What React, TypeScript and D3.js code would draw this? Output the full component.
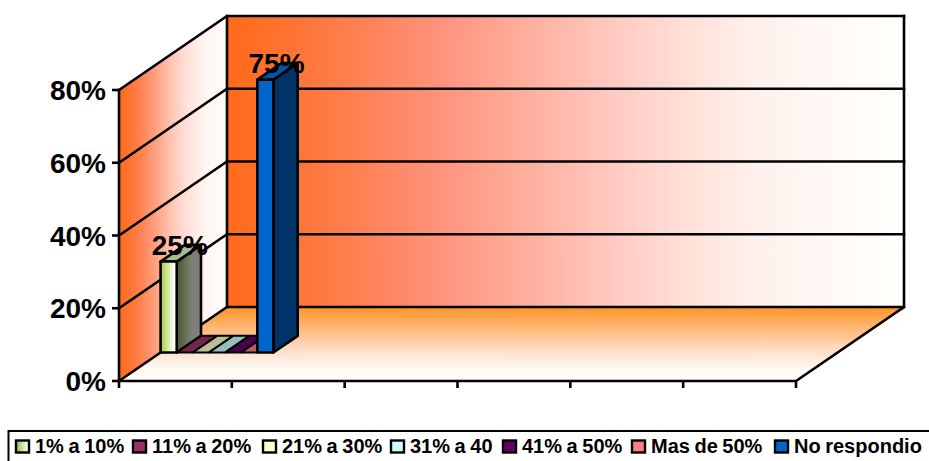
import React from "react";
import * as d3 from "d3";

// Survey answers, percentage of respondents per answer band
const seriesNames = ["1% a 10%", "11% a 20%", "21% a 30%", "31% a 40", "41% a 50%", "Mas de 50%", "No respondio"];
const seriesValues = [25, 0, 0, 0, 0, 0, 75];
const seriesColors = ["#a6ce39", "#993366", "#ffffcc", "#ccffff", "#660066", "#ff8080", "#0066cc"];
const valueTicks = [0, 20, 40, 60, 80];
const categorySlots = [0, 1, 2, 3, 4, 5, 6];

const WIDTH = 929;
const HEIGHT = 461;
const FONT = "'Liberation Sans', Arial, sans-serif";
const STROKE = 2.6;

// Oblique projection: front plane plus a depth offset towards the back wall
const xScale = d3.scaleLinear().domain([0, 6]).range([119, 796]);
const yScale = d3.scaleLinear().domain([0, 80]).range([381, 90]);
const depthX = d3.scaleLinear().domain([0, 1]).range([0, 108]);
const depthY = d3.scaleLinear().domain([0, 1]).range([0, -74]);
const barBand = d3.scaleBand<number>()
  .domain(d3.range(seriesValues.length))
  .range([xScale(0), xScale(1)]);
const BAR_DEPTH_FRONT = 0.385;
const BAR_DEPTH_BACK = 0.61;

type Pt = [number, number];
const project = (x: number, v: number, d: number): Pt => [x + depthX(d), yScale(v) + depthY(d)];
const polygon = d3.line<Pt>().curve(d3.curveLinearClosed);

const shade = (c: string, k: number) => {
  const o = d3.rgb(c);
  return d3.rgb(o.r * k, o.g * k, o.b * k).formatHex();
};

// Legend entries sit at fixed offsets along the strip below the plot
const legendSwatchX = [16, 133, 263, 391, 503, 632, 775];

const Bar = ({ i }: { i: number }) => {
  const v = seriesValues[i];
  const c = seriesColors[i];
  const x0 = barBand(i)!;
  const x1 = x0 + barBand.bandwidth();
  const f = BAR_DEPTH_FRONT;
  const b = BAR_DEPTH_BACK;
  const first = i === 0;
  const front = polygon([project(x0, 0, f), project(x1, 0, f), project(x1, v, f), project(x0, v, f)])!;
  const top = polygon([project(x0, v, f), project(x1, v, f), project(x1, v, b), project(x0, v, b)])!;
  const side = polygon([project(x1, 0, f), project(x1, 0, b), project(x1, v, b), project(x1, v, f)])!;
  const outline = { stroke: "#000", strokeWidth: STROKE, strokeLinejoin: "round" as const };
  if (v === 0) {
    return <path d={top} fill={shade(c, 0.74)} stroke="#000" strokeWidth={2} strokeLinejoin="round" />;
  }
  return (
    <g>
      <path d={side} fill={first ? "url(#firstSide)" : shade(c, 0.5)} {...outline} />
      <path d={top} fill={first ? "#a9ba8a" : shade(c, 0.83)} {...outline} />
      <path d={front} fill={first ? "url(#firstFront)" : c} {...outline} />
    </g>
  );
};

export default function App() {
  const wallLeft = xScale(0);
  const backLeft = project(wallLeft, 0, 1);
  const backTop = project(wallLeft, 80, 1);
  const floorRight = project(xScale(6), 0, 1);
  const frontRight = project(xScale(6), 0, 0);
  const frontBottom = project(wallLeft, 0, 0);
  const frontTop = project(wallLeft, 80, 0);
  const line = { stroke: "#000", strokeWidth: STROKE, fill: "none", strokeLinecap: "square" as const };

  return (
    <svg
      width={WIDTH}
      height={HEIGHT}
      viewBox={`0 0 ${WIDTH} ${HEIGHT}`}
      style={{ position: "fixed", left: 0, top: 0, background: "#fff" }}
    >
      <defs>
        <linearGradient id="wallFade" x1="0" x2="1" y1="0" y2="0">
          <stop offset="0" stopColor="#ff6a18" />
          <stop offset="0.15" stopColor="#ff7a45" />
          <stop offset="0.3" stopColor="#ff9078" />
          <stop offset="0.45" stopColor="#ffb0a0" />
          <stop offset="0.6" stopColor="#ffd0c8" />
          <stop offset="0.7" stopColor="#ffe4dc" />
          <stop offset="0.78" stopColor="#fff0ec" />
          <stop offset="0.88" stopColor="#fff9f5" />
          <stop offset="1" stopColor="#fffefc" />
        </linearGradient>
        <linearGradient id="sideFade" x1="0" x2="1" y1="0" y2="0">
          <stop offset="0" stopColor="#ff6a18" />
          <stop offset="0.2" stopColor="#ff8050" />
          <stop offset="0.5" stopColor="#ffc8b8" />
          <stop offset="0.62" stopColor="#ffe0d8" />
          <stop offset="0.8" stopColor="#fff5f2" />
          <stop offset="1" stopColor="#fffbf9" />
        </linearGradient>
        <linearGradient id="floorFade" x1="0" x2="0" y1="0" y2="1">
          <stop offset="0" stopColor="#ff9426" />
          <stop offset="0.55" stopColor="#ffd9c0" />
          <stop offset="0.8" stopColor="#fff6f0" />
          <stop offset="1" stopColor="#fffefc" />
        </linearGradient>
        <linearGradient id="firstFront" x1="0" x2="1" y1="0" y2="0">
          <stop offset="0" stopColor="#a6ce39" />
          <stop offset="0.85" stopColor="#ffffff" />
        </linearGradient>
        <linearGradient id="firstSide" x1="0" x2="1" y1="0" y2="0">
          <stop offset="0" stopColor="#46592a" />
          <stop offset="0.6" stopColor="#7c7f74" />
          <stop offset="1" stopColor="#808080" />
        </linearGradient>
        <linearGradient id="firstSwatch" x1="0" x2="1" y1="0" y2="0">
          <stop offset="0" stopColor="#8fbf30" />
          <stop offset="0.9" stopColor="#ffffff" />
        </linearGradient>
      </defs>

      {/* Walls and floor */}
      <path d={polygon([frontTop, backTop, backLeft, frontBottom])!} fill="url(#sideFade)" />
      <path d={polygon([backTop, project(xScale(6), 80, 1), floorRight, backLeft])!} fill="url(#wallFade)" />
      <path d={polygon([backLeft, floorRight, frontRight, frontBottom])!} fill="url(#floorFade)" />

      {/* Gridlines run along the side wall, then across the back wall */}
      {valueTicks.map((t) => {
        const a = project(wallLeft, t, 0);
        const b = project(wallLeft, t, 1);
        const c = project(xScale(6), t, 1);
        return <path key={t} d={d3.line()([a, b, c])!} {...line} />;
      })}
      <path d={d3.line()([backTop, backLeft])!} {...line} />
      <path d={d3.line()([project(xScale(6), 80, 1), floorRight, frontRight, frontBottom, frontTop])!} {...line} />

      {/* Value axis ticks and labels */}
      {valueTicks.map((t) => (
        <g key={t}>
          <line x1={wallLeft - 7} x2={wallLeft} y1={yScale(t)} y2={yScale(t)} stroke="#000" strokeWidth={STROKE} />
          <text
            x={106}
            y={yScale(t) + 10}
            textAnchor="end"
            fontFamily={FONT}
            fontWeight="bold"
            fontSize={28}
            fill="#000"
          >
            {d3.format("d")(t)}%
          </text>
        </g>
      ))}

      {/* Category ticks along the front edge of the floor */}
      {categorySlots.map((s) => (
        <line key={s} x1={xScale(s)} x2={xScale(s)} y1={381} y2={388} stroke="#000" strokeWidth={STROKE} />
      ))}

      {seriesValues.map((_, i) => <Bar key={i} i={i} />)}

      {/* Value labels above the non-empty bars */}
      {seriesValues.map((v, i) => {
        if (v === 0) return null;
        const p = project(barBand(i)! + barBand.bandwidth() / 2, v, (BAR_DEPTH_FRONT + BAR_DEPTH_BACK) / 2);
        return (
          <text
            key={i}
            x={p[0] - 1}
            y={yScale(v) + depthY(BAR_DEPTH_FRONT) - 7}
            textAnchor="middle"
            fontFamily={FONT}
            fontWeight="bold"
            fontSize={28}
            fill="#000"
          >
            {v}%
          </text>
        );
      })}

      {/* Legend strip, its box runs off the lower right of the canvas */}
      <rect x={8.5} y={431} width={1000} height={100} fill="#fff" stroke="#000" strokeWidth={2} />
      {seriesNames.map((name, i) => (
        <g key={name}>
          <rect
            x={legendSwatchX[i]}
            y={440.5}
            width={13}
            height={12}
            fill={i === 0 ? "url(#firstSwatch)" : seriesColors[i]}
            stroke="#000"
            strokeWidth={2.4}
          />
          <text
            x={legendSwatchX[i] + 19}
            y={453}
            fontFamily={FONT}
            fontWeight="bold"
            fontSize={20}
            wordSpacing={-1}
            fill="#000"
          >
            {name}
          </text>
        </g>
      ))}
    </svg>
  );
}
